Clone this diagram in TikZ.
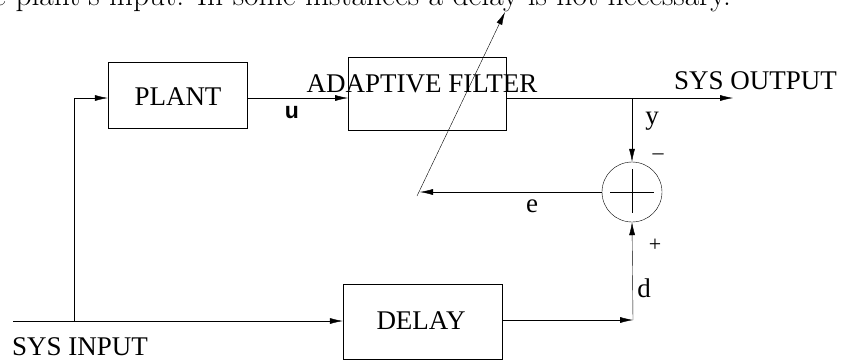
\documentclass[tikz,border=0pt]{standalone}
\usepackage{fontspec}
\newfontfamily\dgserif{Liberation Serif}
\newfontfamily\dgsans{Liberation Sans}
\usetikzlibrary{arrows.meta}
\tikzset{
  x=1pt, y=-1pt,
  line width=1.2pt,
  blk/.style={draw, rectangle, inner sep=0pt},
  lbl/.style={font=\dgserif\fontsize{27}{30}\selectfont, inner sep=0pt},
  sml/.style={font=\dgserif\fontsize{27}{29}\selectfont, inner sep=0pt},
  arr/.style={-{Latex[length=13pt,width=6pt]}},
}
\begin{document}
\begin{tikzpicture}
\useasboundingbox (0,0) rectangle (841,360);

% running text above the figure
\node[anchor=base west, inner sep=0pt, font=\fontsize{31.5}{34}\selectfont] (txt) at (-7,5)
  {e plant's input. In some instances a delay is not necessary.};

% blocks
\node[blk, minimum width=139pt, minimum height=66pt] (plant) at (177.5,95) {};
\node[lbl] (plantt) at (178,97) {PLANT};
\node[blk, minimum width=158pt, minimum height=73pt] (filt) at (427,93.5) {};
\node[lbl] (filtt) at (422,84) {ADAPTIVE FILTER};
\node[blk, minimum width=159pt, minimum height=75pt] (delay) at (422.5,321.5) {};
\node[lbl] (delayt) at (421,321) {DELAY};

% summing junction
\node[draw, circle, minimum size=60pt, inner sep=0pt] (sum) at (632,192) {};
\draw[line width=0.9pt] (610,192) -- (654,192) (632,169) -- (632,213);

% signal points
\coordinate (in0) at (13,321);
\coordinate (tap) at (74,321);
\coordinate (pin) at (74,98);
\coordinate (pout) at (247,98);
\coordinate (fin) at (348,98);
\coordinate (fout) at (506,98);
\coordinate (br) at (632,98);
\coordinate (sysout) at (733,98);
\coordinate (dcorner) at (633,320);
\coordinate (dout) at (502,320);
\coordinate (eend) at (420,192);
\coordinate (adj0) at (417,196);
\coordinate (adj1) at (505,12);

% connectors
\draw[arr] (in0) -- (in0 -| delay.west);
\draw (tap) -- (pin);
\draw[arr] (pin) -- (pin -| plant.west);
\draw[arr] (pout) -- (fin);
\draw[arr] (fout) -- (sysout);
\draw[arr] (br) -- (sum.north);
\draw[arr] (dout) -- (dcorner);
\draw[arr] (dcorner) -- (sum.south);
\draw[arr] (sum.west) -- (eend);
\draw[arr] (adj0) -- (adj1);

% labels
\node[lbl, anchor=base west] (sysin) at (12,355) {SYS INPUT};
\node[lbl, anchor=base west] (sysoutt) at (674,89) {SYS OUTPUT};
\node[font=\dgsans\bfseries\fontsize{23}{26}\selectfont, inner sep=0pt] (ul) at (292,113) {u};
\node[sml] (yl) at (652,121) {y};
\node[sml] (el) at (532,206) {e};
\node[sml] (dl) at (644,288) {d};
\node[font=\dgserif\fontsize{22}{24}\selectfont, inner sep=0pt] (minus) at (658,157) {\textendash};
\node[font=\dgserif\fontsize{22}{24}\selectfont, inner sep=0pt] (plus) at (655,245) {+};
\end{tikzpicture}
\end{document}
